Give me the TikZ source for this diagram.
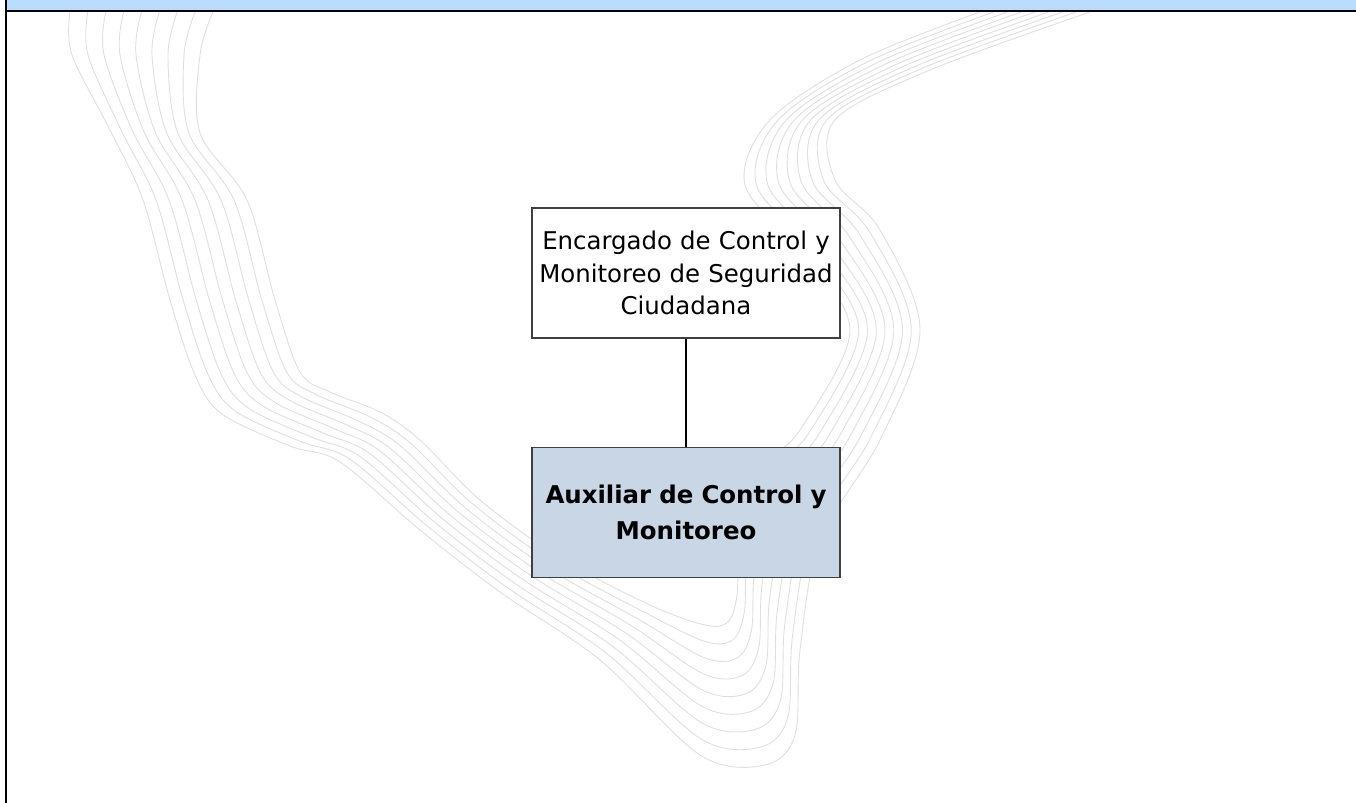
\documentclass[tikz,border=0pt]{standalone}
\usepackage{fontspec}
\setmainfont{DejaVu Sans}
\usetikzlibrary{positioning}
\definecolor{bandblue}{RGB}{186,220,254}
\definecolor{cargofill}{RGB}{200,214,229}
\definecolor{grismarca}{RGB}{222,222,222}
\begin{document}
\begin{tikzpicture}[x=0.02cm, y=-0.02cm,
	cargo/.style={draw=black!75, line width=0.8pt, minimum width=6.16cm, minimum height=2.6cm, text width=6.1cm, align=center, inner sep=0pt, font=\fontsize{13.9}{18.7}\selectfont},
	marca/.style={draw=grismarca, line width=0.5pt}]
	\useasboundingbox (0,0) rectangle (1356,803);
	% marca de agua
	\foreach \i in {0,...,8} {
		\pgfmathsetmacro{\t}{\i/8}
		\draw[marca] plot[smooth, tension=0.55] coordinates {({70+143*\t},12) ({72+128*\t},55) ({110+90*\t},{130+3*\t}) ({143+104*\t},200) ({170+105*\t},300) ({195+105*\t},{375-3*\t}) ({222+108*\t},{414-22*\t}) ({290+90*\t},{446-34*\t}) ({340+80*\t},{462-22*\t}) ({420+60*\t},{530-30*\t}) ({500+60*\t},{592-34*\t}) ({600+50*\t},{660-55*\t}) ({700+5*\t},{755-130*\t}) ({765-37*\t},{765-143*\t}) ({795-58*\t},{735-140*\t}) ({800-60*\t},{650-110*\t}) ({820-60*\t},{540-70*\t}) ({880-80*\t},{440-10*\t}) ({920-70*\t},330) ({880-80*\t},{230+20*\t}) ({835-90*\t},{180+5*\t}) ({835-65*\t},120) ({930-70*\t},{70-10*\t}) ({1090-110*\t},12)};
	}
	% cabecera
	\fill[bandblue] (7,0) rectangle (1356,10);
	\draw[line width=1.2pt] (6,0) -- (6,803);
	\draw[line width=1.2pt] (5,11) -- (1356,11);
	% cargos
	\node[cargo, fill=white] (encargado) at (686,273) {Encargado de Control y\\ Monitoreo de Seguridad\\ Ciudadana};
	\node[cargo, fill=cargofill, below=2.16cm of encargado, font=\bfseries\fontsize{13.9}{20}\selectfont] (auxiliar) {Auxiliar de Control y\\ Monitoreo};
	\draw[line width=0.8pt] (encargado) -- (auxiliar);
\end{tikzpicture}
\end{document}
